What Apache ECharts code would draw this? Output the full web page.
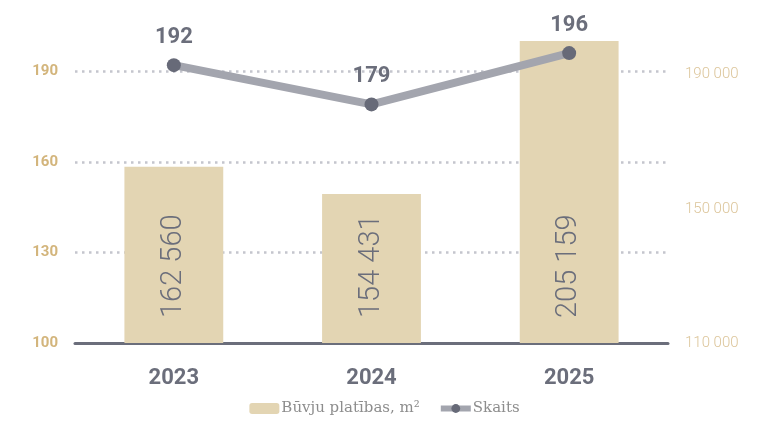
<!DOCTYPE html>
<html>
<head>
<meta charset="utf-8">
<script src="https://cdn.jsdelivr.net/npm/echarts@6/dist/echarts.min.js"></script>
<style>
  html, body { margin: 0; padding: 0; background: #fff; }
  #chart { width: 769px; height: 426px; }
</style>
</head>
<body>
<div id="chart"></div>
<script>
const years = ['2023', '2024', '2025'];
const area = [162560, 154431, 205159];   // Būvju platības, m²
const count = [192, 179, 196];           // Skaits

const leftTicks = [100, 130, 160, 190];
const rightTicks = [110000, 150000, 190000];

function spaced(v) {
  return String(v).replace(/\B(?=(\d{3})+(?!\d))/g, ' ');
}

let myChart = echarts.init(document.getElementById('chart'));
let option = {
  animation: false,
  textStyle: { fontFamily: 'Roboto' },
  grid: { left: 75, right: 101, top: 41, bottom: 83 },
  legend: {
    bottom: 5,
    left: 'center',
    itemWidth: 30,
    itemHeight: 11,
    itemGap: 18,
    textStyle: { color: '#8d8d8d', fontSize: 15, fontFamily: 'DejaVu Serif', padding: [0, 0, 0, -3] },
    data: [
      'Būvju platības, m²',
      { name: 'Skaits', lineStyle: { color: '#a3a5ae', width: 6 } }
    ]
  },
  xAxis: {
    type: 'category',
    data: years,
    axisTick: { show: false },
    axisLine: { lineStyle: { color: '#6b6e7b', width: 3 } },
    axisLabel: { color: '#6b6e7b', fontSize: 22, fontWeight: 'bold', margin: 24 }
  },
  yAxis: [
    {
      type: 'value',
      min: 100,
      max: 200,
      interval: 10,
      axisLine: { show: false },
      axisTick: { show: false },
      axisLabel: {
        color: '#d3b57c', fontSize: 15, fontWeight: 'bold', margin: 17,
        formatter: v => leftTicks.includes(v) ? String(v) : ''
      },
      splitLine: {
        lineStyle: { color: ['#c4c5cd', 'transparent', 'transparent'], type: [2.5, 4.5], width: 2.5 }
      }
    },
    {
      type: 'value',
      min: 110000,
      max: 200000,
      interval: 10000,
      position: 'right',
      axisLine: { show: false },
      axisTick: { show: false },
      splitLine: { show: false },
      axisLabel: {
        color: '#dcc59a', fontSize: 15, fontWeight: 300, margin: 17,
        formatter: v => rightTicks.includes(v) ? spaced(v) : ''
      }
    }
  ],
  series: [
    {
      name: 'Būvju platības, m²',
      type: 'bar',
      yAxisIndex: 1,
      barWidth: '50%',
      data: area,
      itemStyle: { color: '#e3d5b3' },
      label: {
        show: true,
        position: 'insideBottom',
        rotate: 90,
        align: 'left',
        verticalAlign: 'middle',
        distance: 25,
        color: '#6b6e7b',
        fontSize: 29,
        fontWeight: 300,
        formatter: p => spaced(p.value)
      }
    },
    {
      name: 'Skaits',
      type: 'line',
      yAxisIndex: 0,
      data: count,
      z: 5,
      symbol: 'circle',
      symbolSize: 14,
      lineStyle: { color: '#a3a5ae', width: 8 },
      itemStyle: { color: '#676a78' },
      label: {
        show: true,
        position: 'top',
        distance: 10,
        color: '#6b6e7b',
        fontSize: 22,
        fontWeight: 'bold'
      }
    }
  ]
};
myChart.setOption(option);
</script>
</body>
</html>
